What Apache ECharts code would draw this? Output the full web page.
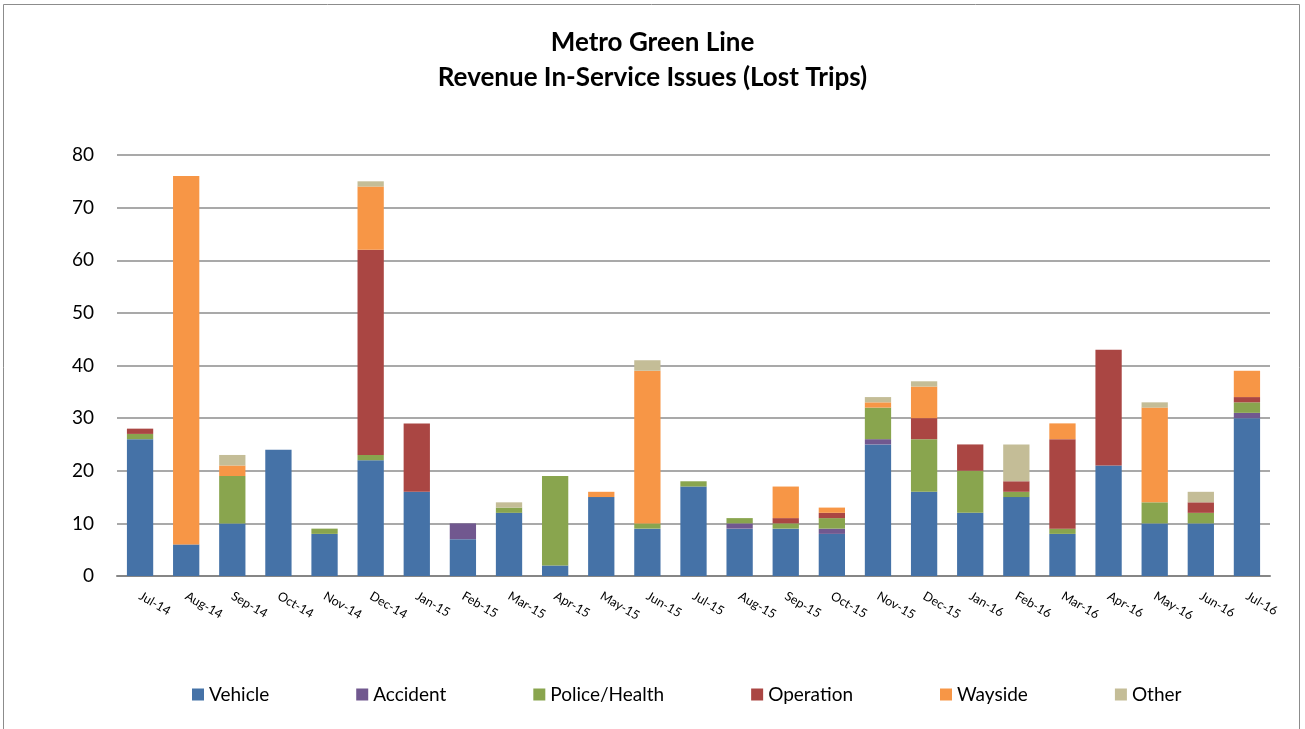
<!DOCTYPE html>
<html><head><meta charset="utf-8">
<script src="https://cdn.jsdelivr.net/npm/echarts@6/dist/echarts.min.js"></script>
<style>html,body{margin:0;padding:0;background:#fff}#c{width:1305px;height:729px}</style>
</head><body><div id="c"></div>
<script>
const categories = ['Jul-14','Aug-14','Sep-14','Oct-14','Nov-14','Dec-14','Jan-15','Feb-15','Mar-15','Apr-15','May-15','Jun-15','Jul-15','Aug-15','Sep-15','Oct-15','Nov-15','Dec-15','Jan-16','Feb-16','Mar-16','Apr-16','May-16','Jun-16','Jul-16'];
const vehicle   = [26, 6,10,24, 8,22,16, 7,12, 2,15, 9,17, 9, 9, 8,25,16,12,15, 8,21,10,10,30];
const accident  = [ 0, 0, 0, 0, 0, 0, 0, 3, 0, 0, 0, 0, 0, 1, 0, 1, 1, 0, 0, 0, 0, 0, 0, 0, 1];
const police    = [ 1, 0, 9, 0, 1, 1, 0, 0, 1,17, 0, 1, 1, 1, 1, 2, 6,10, 8, 1, 1, 0, 4, 2, 2];
const operation = [ 1, 0, 0, 0, 0,39,13, 0, 0, 0, 0, 0, 0, 0, 1, 1, 0, 4, 5, 2,17,22, 0, 2, 1];
const wayside   = [ 0,70, 2, 0, 0,12, 0, 0, 0, 0, 1,29, 0, 0, 6, 1, 1, 6, 0, 0, 3, 0,18, 0, 5];
const other     = [ 0, 0, 2, 0, 0, 1, 0, 0, 1, 0, 0, 2, 0, 0, 0, 0, 1, 1, 0, 7, 0, 0, 1, 2, 0];
const yTicks = [0,10,20,30,40,50,60,70,80];

const FONT = 'Lato, "Open Sans", sans-serif';
const names = ['Vehicle','Accident','Police/Health','Operation','Wayside','Other'];
const colors = ['#4572A7','#71588F','#89A54E','#AA4643','#F79646','#C4BD97'];
const datas = [vehicle, accident, police, operation, wayside, other];

const chart = echarts.init(document.getElementById('c'), null, {renderer:'canvas'});
chart.setOption({
  animation:false,
  backgroundColor:'#fff',
  graphic:[{type:'rect', shape:{x:3.5,y:4.5,width:1296,height:740}, style:{fill:'none', stroke:'#8c8c8c', lineWidth:1}, silent:true, z:-1}],
  title:{
    text:'Metro Green Line\nRevenue In-Service Issues (Lost Trips)',
    left:'center', top:20,
    textStyle:{fontFamily:FONT, fontWeight:'bold', fontSize:26, lineHeight:35, color:'#000'}
  },
  legend:{
    bottom:20, left:187, itemWidth:12, itemHeight:12, itemGap:87,
    icon:'rect',
    textStyle:{fontFamily:FONT, fontSize:19, color:'#000', padding:[0,0,0,0]},
    data:names
  },
  grid:{left:117, right:35, top:155, bottom:153, containLabel:false},
  xAxis:{
    type:'category', data:categories,
    axisLine:{lineStyle:{color:'#868686', width:2}},
    axisTick:{show:false},
    axisLabel:{rotate:-30, fontFamily:FONT, fontSize:12.5, color:'#000', margin:19, interval:0}
  },
  yAxis:{
    type:'value', min:yTicks[0], max:yTicks[yTicks.length-1], interval:10,
    axisLine:{show:false}, axisTick:{show:false},
    axisLabel:{fontFamily:FONT, fontSize:19, color:'#000', margin:23},
    splitLine:{lineStyle:{color:'#8c8c8c', width:1.5}}
  },
  series: names.map((n,i)=>({
    name:n, type:'bar', stack:'total', data:datas[i],
    barWidth:'57%',
    itemStyle:{color:colors[i]}
  }))
});
</script></body></html>
